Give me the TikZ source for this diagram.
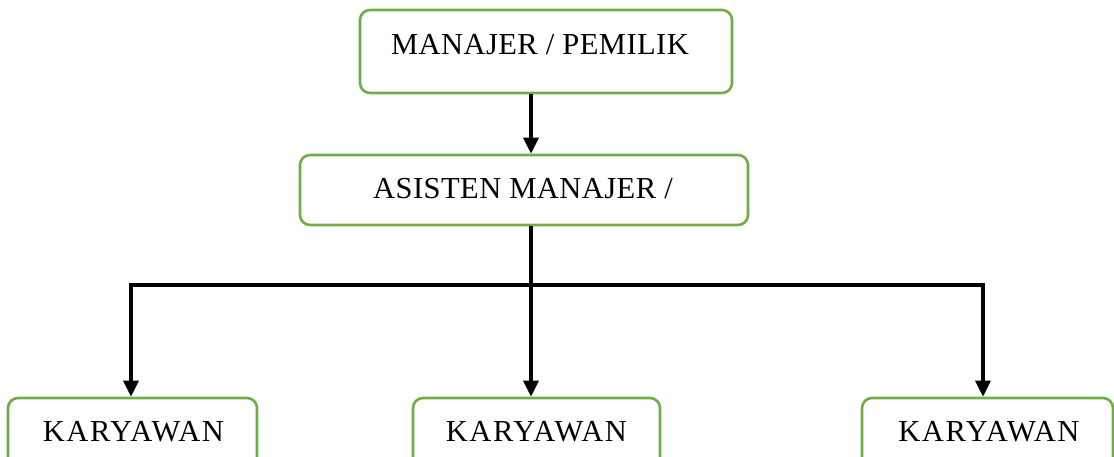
\documentclass[tikz,border=0pt]{standalone}
\usepackage{fontspec}
\setmainfont{Liberation Serif}
\newfontfamily\spacedA[LetterSpace=1.5]{Liberation Serif}
\newfontfamily\spacedK[LetterSpace=5]{Liberation Serif}
\usetikzlibrary{arrows.meta}
\definecolor{boxgreen}{HTML}{70AD47}
\begin{document}
\begin{tikzpicture}[x=1pt,y=-1pt,
  orgbox/.style={draw=boxgreen,line width=2.6pt,rounded corners=10pt,inner sep=0pt,minimum width=#1},
  orgtext/.style={anchor=base,inner sep=0pt,font=\fontsize{30.5}{36}\selectfont},
  conn/.style={line width=3.4pt,draw=black},
  arr/.style={conn,-{Triangle[length=16pt,width=15pt]}}]
\useasboundingbox (0,0) rectangle (1114,457);
\clip (0,0) rectangle (1114,457);
\fill[white] (0,0) rectangle (1114,457);
% boxes
\node[orgbox=372pt,minimum height=83pt] (top) at (546,51.5) {};
\node[orgbox=448pt,minimum height=70pt] (asis) at (524,190) {};
\node[orgbox=249pt,minimum height=90pt] (k1) at (132.5,443) {};
\node[orgbox=247pt,minimum height=90pt] (k2) at (536.5,443) {};
\node[orgbox=251pt,minimum height=90pt] (k3) at (987.5,443) {};
% texts
\node[orgtext] (ttop) at (540,54.5) {\spacedA MANAJER / PEMILIK};
\node[orgtext] (tasis) at (523,198.5) {\spacedA ASISTEN MANAJER /};
\node[orgtext] (tk1) at (133.5,441) {\spacedK KARYAWAN};
\node[orgtext] (tk2) at (536.5,441) {\spacedK KARYAWAN};
\node[orgtext] (tk3) at (989,441) {\spacedK KARYAWAN};
% connectors
\coordinate (spine) at (531,285);
\coordinate (dl) at (131,285);
\coordinate (dr) at (983,285);
\draw[arr] (top.south -| spine) -- (asis.north -| spine);
\draw[conn] (asis.south -| spine) -- (spine);
\draw[conn,line cap=rect] (dl) -- (dr);
\draw[arr] (dl) -- (k1.north -| dl);
\draw[arr] (spine) -- (k2.north -| spine);
\draw[arr] (dr) -- (k3.north -| dr);
\end{tikzpicture}
\end{document}
